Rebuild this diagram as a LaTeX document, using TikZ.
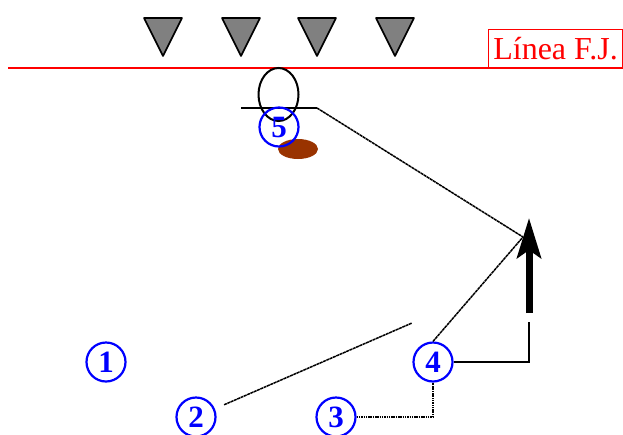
\documentclass[tikz,border=0pt]{standalone}
\usepackage{fontspec}
\setmainfont{Liberation Serif}
\usetikzlibrary{arrows.meta,shapes.geometric}
\tikzset{
  player/.style={circle, draw=blue, line width=2.2pt, minimum size=39pt, inner sep=0pt,
    text=blue, font=\fontsize{31}{31}\selectfont\bfseries},
  cone/.style={draw=black, line width=1.6pt, line join=round, fill=gray},
  pass/.style={black, line width=1.5pt, dash pattern=on 3pt off 0.6pt},
  dribble/.style={black, line width=1.8pt, dash pattern=on 1.5pt off 0.8pt},
  run/.style={black, line width=1.5pt},
}
\begin{document}
\begin{tikzpicture}[x=1pt,y=-1pt]
\useasboundingbox (0,0) rectangle (623,434);
% cones
\foreach \cx in {163,241,317,395}{
  \draw[cone] (\cx-19,18) -- (\cx+19,18) -- (\cx,56) -- cycle;
}
% free-throw line
\draw[red, line width=1.4pt] (8,68) -- (623,68);
\node[draw=red, line width=1.2pt, minimum width=134pt, minimum height=38pt, anchor=south west,
  inner sep=0pt, text=red, font=\fontsize{32}{32}\selectfont] (lab) at (488,68) {Línea F.J.};
% hoop and backboard
\node[ellipse, draw=black, line width=2pt, minimum width=40pt, minimum height=53pt, inner sep=0pt] (hoop) at (278.5,94.5) {};
\coordinate (bbl) at (241,108);
\coordinate (bbr) at (317,108);
\draw[black, line width=1.8pt] (bbl) -- (bbr);
% ball
\node[ellipse, fill={rgb,255:red,153;green,51;blue,0}, minimum width=40pt, minimum height=20pt, inner sep=0pt] (ball) at (298,149) {};
% players
\node[player] (p1) at (106,362) {1};
\node[player] (p2) at (196,417) {2};
\node[player] (p3) at (336,417) {3};
\node[player] (p4) at (433,362) {4};
\node[player] (p5) at (279,127) {5};
% coordinates
\coordinate (meet) at (523,237);
\coordinate (free2) at (412,323);
\coordinate (elbow) at (529,322);
\coordinate (abase) at (529,313);
\coordinate (atip) at (529,218);
% connectors
\draw[pass] (bbr) -- (meet);
\draw[pass] (p4.north) -- (meet);
\draw[pass, shorten <=10pt] (p2) -- (free2);
\draw[dribble] (p3.east) -| (p4.south);
\draw[run] (p4.east) -| (elbow);
\draw[black, line width=7pt, -{Stealth[length=40pt, width=24pt, inset=8pt]}] (abase) -- (atip);
\end{tikzpicture}
\end{document}
